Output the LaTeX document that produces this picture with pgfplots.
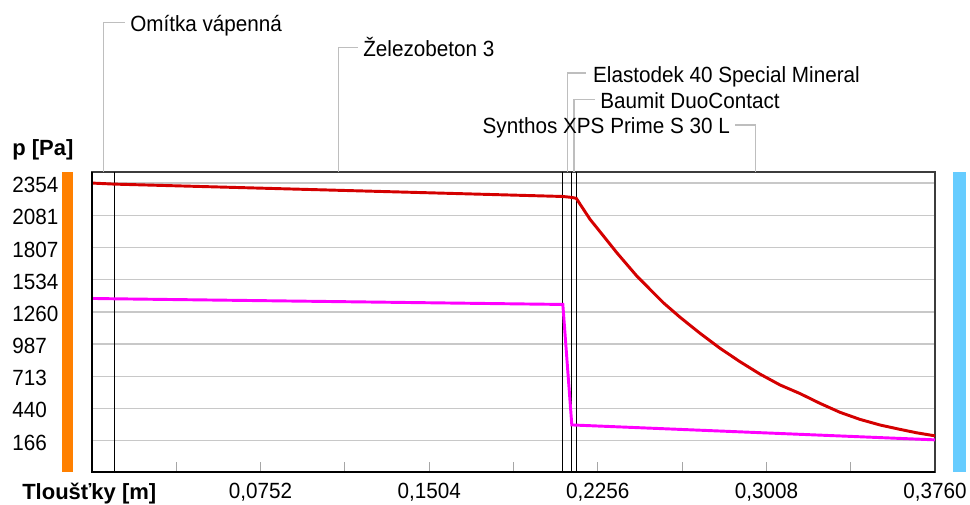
\documentclass[border=0pt]{standalone}
\usepackage{pgfplots}
\pgfplotsset{compat=1.18}
\usepackage{fontspec}
\setmainfont{Liberation Sans}[FakeStretch=0.94]
\newfontfamily\blabfont{Liberation Sans}
\definecolor{psat}{RGB}{212,0,0}
\definecolor{pmag}{RGB}{255,0,255}
\definecolor{barorange}{RGB}{255,128,0}
\definecolor{barblue}{RGB}{102,204,255}
\definecolor{leader}{RGB}{190,190,190}
\definecolor{gridc}{RGB}{200,200,200}
\definecolor{frame}{RGB}{60,60,60}
\begin{document}
\fontsize{16.5pt}{19pt}\selectfont
\begin{tikzpicture}
\path[use as bounding box] (0,0) rectangle (727.5pt,378.75pt);
\begin{axis}[
  at={(69pt,24.75pt)}, anchor=south west,
  scale only axis, width=632.25pt, height=225pt,
  xmin=0, xmax=0.376, ymin=-100, ymax=2448,
  clip=false,
  axis line style={draw=frame, line width=1.1pt},
  ytick={166,440,713,987,1260,1534,1807,2081,2354},
  yticklabels={166,440,713,987,1260,1534,1807,2081,2354},
  ytick style={draw=none},
  yticklabel style={anchor=west, inner sep=0pt, xshift=-60pt, yshift=-1.5pt},
  xtick={0.0752,0.1504,0.2256,0.3008,0.376},
  xticklabels={{0,0752},{0,1504},{0,2256},{0,3008},{0,3760}},
  minor xtick={0.0376,0.1128,0.188,0.2632,0.3384},
  xtick pos=bottom, tick align=inside,
  major tick length=7.5pt, minor tick length=7.5pt,
  xtick style={draw=black!35, line width=0.75pt},
  minor x tick style={draw=black!35, line width=0.75pt},
  xticklabel style={anchor=base, inner sep=0pt, yshift=-20.25pt},
  ymajorgrids, grid style={draw=gridc, line width=1pt},
  tick label style={font=\fontsize{16.5pt}{19pt}\selectfont},
]
% layer boundaries
\addplot[black, line width=0.8pt] coordinates {(0.01,-100) (0.01,2448)};
\addplot[black, line width=0.8pt] coordinates {(0.21,-100) (0.21,2448)};
\addplot[black, line width=0.8pt] coordinates {(0.214,-100) (0.214,2448)};
\addplot[black, line width=0.8pt] coordinates {(0.216,-100) (0.216,2448)};
% saturated pressure
\addplot[psat, line width=2.2pt] coordinates {
(0,2354) (0.01,2345) (0.21,2240) (0.214,2232) (0.216,2224)
(0.2221,2047) (0.2281,1905) (0.2340,1764) (0.2430,1564) (0.2548,1338)
(0.2623,1214) (0.2712,1078) (0.2801,951) (0.2890,837) (0.2979,732)
(0.3069,639) (0.3158,566) (0.3247,483) (0.3336,407) (0.3425,347)
(0.3515,299) (0.3604,262) (0.3678,233) (0.376,207)};
% partial pressure
\addplot[pmag, line width=2.2pt] coordinates {
(0,1374) (0.01,1371) (0.21,1323) (0.214,300) (0.216,298) (0.376,173)};
% thick left and bottom frame
\draw[black, line width=2.2pt] (axis cs:0,2448) -- (axis cs:0,-100) -- (axis cs:0.376,-100);
% side bars
\fill[barorange] (axis cs:-0.01338,-100) rectangle (axis cs:-0.00847,2448);
\fill[barblue] (axis cs:0.3842,-100) rectangle (axis cs:0.3898,2448);
% leaders
\draw[leader, line width=0.9pt] (axis cs:0.005,2448) |- (axis cs:0.01472,3716);
\node[anchor=base west, inner sep=0pt] at (axis cs:0.01695,3640) {Omítka vápenná};
\draw[leader, line width=0.9pt] (axis cs:0.11,2448) |- (axis cs:0.1186,3504);
\node[anchor=base west, inner sep=0pt] at (axis cs:0.1209,3427) {Železobeton 3};
\draw[leader, line width=0.9pt] (axis cs:0.212,2448) |- (axis cs:0.2203,3289);
\node[anchor=base west, inner sep=0pt] at (axis cs:0.2234,3206) {Elastodek 40 Special Mineral};
\draw[leader, line width=0.9pt] (axis cs:0.215,2448) |- (axis cs:0.2243,3064);
\node[anchor=base west, inner sep=0pt] at (axis cs:0.2266,2989) {Baumit DuoContact};
\draw[leader, line width=0.9pt] (axis cs:0.296,2448) |- (axis cs:0.2866,2847);
\node[anchor=base east, inner sep=0pt] at (axis cs:0.2846,2777) {Synthos XPS Prime S 30 L};
% axis titles
\node[anchor=base west, inner sep=0pt] at (axis cs:-0.03568,2584) {\blabfont\bfseries p [Pa]};
\node[anchor=base west, inner sep=0pt] at (axis cs:-0.03122,-330) {\blabfont\bfseries Tloušťky [m]};
\end{axis}
\end{tikzpicture}
\end{document}
